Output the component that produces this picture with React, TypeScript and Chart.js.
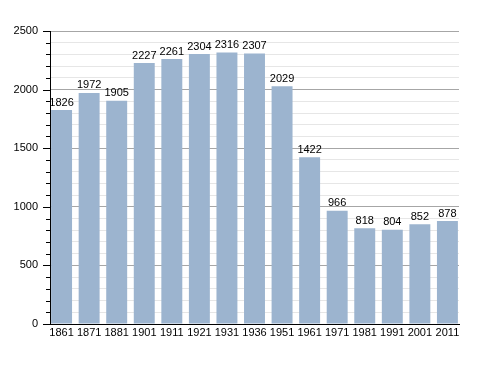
import React, { useEffect, useRef } from "react";
import { Chart, registerables } from "chart.js";

Chart.register(...registerables);

const years = ["1861", "1871", "1881", "1901", "1911", "1921", "1931", "1936", "1951", "1961", "1971", "1981", "1991", "2001", "2011"];
const population = [1826, 1972, 1905, 2227, 2261, 2304, 2316, 2307, 2029, 1422, 966, 818, 804, 852, 878];
const yMax = 2500;
const majorStep = 500;
const minorStep = 100;

const FONT = "'Liberation Sans', Arial, sans-serif";
const BAR_FRAC = 0.76;
const EDGE = BAR_FRAC / 2 + 0.04;

const valueLabels = {
  id: "valueLabels",
  afterDatasetsDraw(chart: any) {
    const ctx = chart.ctx;
    const meta = chart.getDatasetMeta(0);
    ctx.save();
    ctx.font = `11px ${FONT}`;
    ctx.fillStyle = "#000";
    ctx.textAlign = "center";
    ctx.textBaseline = "bottom";
    meta.data.forEach((bar: any, i: number) => {
      ctx.fillText(String(population[i]), bar.x, bar.y - 2);
    });
    ctx.restore();
  },
};

const yTicks = {
  id: "yTicks",
  afterDraw(chart: any) {
    const ctx = chart.ctx;
    const y = chart.scales.y;
    const left = chart.chartArea.left;
    ctx.save();
    ctx.strokeStyle = "#000";
    ctx.lineWidth = 1;
    for (let v = 0; v <= yMax; v += minorStep) {
      const py = Math.round(y.getPixelForValue(v)) + 0.5;
      const len = v % majorStep === 0 ? 7 : 4;
      ctx.beginPath();
      ctx.moveTo(left - len, py);
      ctx.lineTo(left, py);
      ctx.stroke();
    }
    ctx.restore();
  },
};

export default function App() {
  const ref = useRef<HTMLCanvasElement>(null);
  useEffect(() => {
    if (!ref.current) return;
    const points = years.map((_, i) => ({ x: i, y: population[i] }));
    const chart = new Chart(ref.current, {
      type: "bar",
      data: {
        datasets: [
          {
            data: points,
            backgroundColor: "#9cb4cf",
            borderWidth: 0,
            barPercentage: BAR_FRAC,
            categoryPercentage: 1,
          },
        ],
      },
      options: {
        animation: false,
        responsive: false,
        maintainAspectRatio: false,
        layout: { padding: { left: 0, right: 29, top: 31, bottom: 0 } },
        plugins: { legend: { display: false }, tooltip: { enabled: false } },
        scales: {
          x: {
            type: "linear",
            offset: false,
            min: -EDGE,
            max: years.length - 1 + EDGE,
            grid: { display: false, drawTicks: false },
            border: { color: "#000", width: 1 },
            ticks: {
              stepSize: 1,
              includeBounds: false,
              color: "#000",
              font: { family: FONT, size: 11 },
              padding: 2,
              maxRotation: 0,
              autoSkip: false,
              callback: (v: any) => {
                const n = Number(v);
                return Number.isInteger(n) && years[n] ? years[n] : "";
              },
            },
            afterFit(scale: any) {
              scale.height = 49;
            },
          },
          y: {
            min: 0,
            max: yMax,
            grid: {
              drawTicks: false,
              color: (c: any) => (c.tick && c.tick.value % majorStep === 0 ? "#a6a6a6" : "#e6e6e6"),
              lineWidth: 1,
            },
            border: { color: "#000", width: 1 },
            ticks: {
              stepSize: minorStep,
              autoSkip: false,
              color: "#000",
              padding: 12,
              font: { family: FONT, size: 11 },
              callback: (v: any) => (Number(v) % majorStep === 0 ? String(v) : ""),
            },
            afterFit(scale: any) {
              scale.width = 50;
            },
          },
        },
      },
      plugins: [valueLabels, yTicks],
    });
    return () => chart.destroy();
  }, []);
  return (
    <div style={{ position: "fixed", left: 0, top: 0, width: 488, height: 373, background: "#fff" }}>
      <canvas ref={ref} width={488} height={373} />
    </div>
  );
}
